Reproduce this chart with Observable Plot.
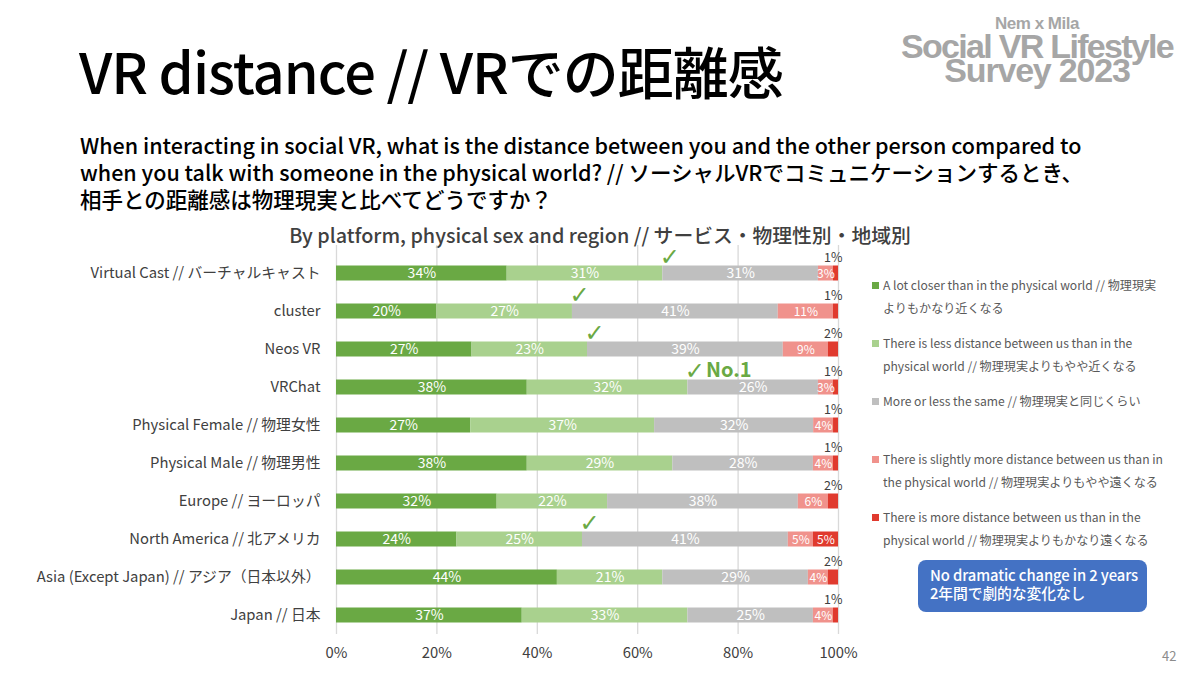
<!DOCTYPE html>
<html>
<head>
<meta charset="utf-8">
<script src="https://cdn.jsdelivr.net/npm/d3@7"></script>
<script src="https://cdn.jsdelivr.net/npm/@observablehq/plot@0.6"></script>
<style>
  html, body { margin: 0; padding: 0; background: #fff; }
  #page { position: relative; width: 1200px; height: 675px; overflow: hidden; font-family: "Noto Sans CJK JP", "Noto Sans", sans-serif; color: #000; }
  .abs { position: absolute; white-space: nowrap; }
  #title { left: 79px; top: 35px; font-size: 56px; line-height: 70px; font-weight: 500; letter-spacing: -1px; }
  #question { left: 80px; top: 131px; font-size: 21.5px; line-height: 27px; font-weight: 500; }
  #charttitle { left: 0; width: 1200px; text-align: center; top: 223px; font-size: 19.8px; line-height: 24px; color: #404040; font-weight: 500; }
  #chart { position: absolute; left: 0; top: 245px; }
  #legend { left: 872px; top: 274px; }
  .item { height: 58px; font-size: 12.1px; line-height: 22.5px; color: #595959; }
  .sw { display: inline-block; width: 7px; height: 7px; margin-right: 4px; vertical-align: 1px; }
  .cont { padding-left: 11px; }
  #note { left: 918px; top: 560px; width: 212px; height: 40px; padding: 6px 5px 6px 12px; background: #4472c4; border-radius: 8px; color: #fff; font-size: 14.8px; line-height: 17.5px; font-weight: 500; letter-spacing: -0.1px; }
  #logo { left: 893px; top: 14px; width: 288px; text-align: center; color: #a6a6a6; font-family: "Liberation Sans", Arial, sans-serif; font-weight: bold; }
  #logo .l1 { font-size: 17px; line-height: 20px; letter-spacing: -0.5px; }
  #logo .l2 { font-size: 34px; line-height: 24px; letter-spacing: -1.7px; }
  #logo .l3 { font-size: 34px; line-height: 25px; letter-spacing: -1.2px; }
  #pagenum { left: 1162px; top: 646px; font-size: 13px; color: #8c8c8c; }
</style>
</head>
<body>
<div id="page">
  <div id="title" class="abs">VR distance // VRでの距離感</div>
  <div id="question" class="abs">When interacting in social VR, what is the distance between you and the other person compared to<br>when you talk with someone in the physical world? // ソーシャルVRでコミュニケーションするとき、<br>相手との距離感は物理現実と比べてどうですか？</div>
  <div id="charttitle" class="abs">By platform, physical sex and region // サービス・物理性別・地域別</div>
  <div id="logo" class="abs"><div class="l1">Nem x Mila</div><div class="l2">Social VR Lifestyle</div><div class="l3">Survey 2023</div></div>
  <div id="chart"></div>
  <div id="legend" class="abs"></div>
  <div id="note" class="abs">No dramatic change in 2 years<br>2年間で劇的な変化なし</div>
  <div id="pagenum" class="abs">42</div>
</div>
<script>
// ---- data ----
const categories = [
  "Virtual Cast // バーチャルキャスト",
  "cluster",
  "Neos VR",
  "VRChat",
  "Physical Female // 物理女性",
  "Physical Male // 物理男性",
  "Europe // ヨーロッパ",
  "North America // 北アメリカ",
  "Asia (Except Japan) // アジア（日本以外）",
  "Japan // 日本"
];
const aLotCloser      = [34, 20, 27, 38, 27, 38, 32, 24, 44, 37];
const slightlyCloser  = [31, 27, 23, 32, 37, 29, 22, 25, 21, 33];
const aboutSame       = [31, 41, 39, 26, 32, 28, 38, 41, 29, 25];
const slightlyFarther = [3, 11, 9, 3, 4, 4, 6, 5, 4, 4];
const muchFarther     = [1, 1, 2, 1, 1, 1, 2, 5, 2, 1];

const seriesKeys = ["aLotCloser", "slightlyCloser", "aboutSame", "slightlyFarther", "muchFarther"];
const seriesValues = [aLotCloser, slightlyCloser, aboutSame, slightlyFarther, muchFarther];
const legendLabels = [
  ["A lot closer than in the physical world // 物理現実", "よりもかなり近くなる"],
  ["There is less distance between us than in the", "physical world // 物理現実よりもやや近くなる"],
  ["More or less the same // 物理現実と同じくらい"],
  ["There is slightly more distance between us than in", "the physical world // 物理現実よりもやや遠くなる"],
  ["There is more distance between us than in the", "physical world // 物理現実よりもかなり遠くなる"]
];
const checkedCategories = ["Virtual Cast // バーチャルキャスト", "cluster", "Neos VR", "VRChat", "North America // 北アメリカ"];
const topCategory = "VRChat";
const topLabel = "No.1";
const xTicks = [0, 0.2, 0.4, 0.6, 0.8, 1];

// ---- styles ----
const colors = ["#6aa944", "#a9d18e", "#bfbfbf", "#f0928c", "#e03a2e"];

// ---- table ----
const rows = [];
categories.forEach((c, i) => {
  seriesKeys.forEach((s, j) => {
    rows.push({category: c, series: s, si: j, value: seriesValues[j][i]});
  });
});

const pct = d => d.value + "%";
const stackOpts = {x: "value", y: "category", z: "series", order: seriesKeys, offset: "normalize"};

const chart = Plot.plot({
  width: 860,
  height: 431,
  marginLeft: 336,
  marginRight: 22,
  marginTop: 0,
  marginBottom: 42,
  style: {fontFamily: "'Noto Sans CJK JP', 'Noto Sans', sans-serif", fontSize: "14.8px", color: "#404040", background: "transparent", overflow: "visible"},
  x: {domain: [0, 1], ticks: xTicks, tickFormat: d3.format(".0%"), tickSize: 0, tickPadding: 13, label: null},
  y: {domain: categories, padding: 0, insetTop: 8.5, tickSize: 0, tickPadding: 16, label: null},
  color: {domain: seriesKeys, range: colors},
  marks: [
    Plot.ruleX(xTicks, {stroke: "#d9d9d9", strokeWidth: 1.3}),
    Plot.barX(rows, Plot.stackX({...stackOpts, fill: "series", insetTop: 11.5, insetBottom: 11.5})),
    Plot.text(rows, Plot.stackX({
      ...stackOpts,
      text: d => (d.si < 4 || d.value >= 5) ? pct(d) : "",
      fill: "white",
      fontSize: d => d.si >= 3 ? 12 : 14,
      dy: 0.5
    })),
    Plot.text(rows, Plot.stackX2({
      ...stackOpts,
      text: d => (d.si === 4 && d.value < 5) ? pct(d) : "",
      fill: "#404040",
      fontSize: 12.5,
      textAnchor: "end",
      dx: 4,
      dy: -16
    })),
    Plot.text(rows, Plot.stackX2({
      ...stackOpts,
      text: d => (d.si === 1 && checkedCategories.includes(d.category)) ? "✓" : "",
      fill: "#6aa944",
      fontSize: 24,
      fontWeight: "bold",
      fontFamily: "DejaVu Sans",
      dx: 7,
      dy: -16
    })),
    Plot.text(rows, Plot.stackX2({
      ...stackOpts,
      text: d => (d.si === 1 && d.category === topCategory) ? topLabel : "",
      fill: "#6aa944",
      fontSize: 20,
      fontWeight: "bold",
      textAnchor: "start",
      dx: 18,
      dy: -17
    }))
  ]
});
document.getElementById("chart").appendChild(chart);

// ---- legend ----
const legend = document.getElementById("legend");
legendLabels.forEach((lines, j) => {
  const item = document.createElement("div");
  item.className = "item";
  const sw = `<span class="sw" style="background:${colors[j]}"></span>`;
  item.innerHTML = sw + lines[0] + (lines[1] ? `<br><span class="cont">${lines[1]}</span>` : "");
  legend.appendChild(item);
});
</script>
</body>
</html>
